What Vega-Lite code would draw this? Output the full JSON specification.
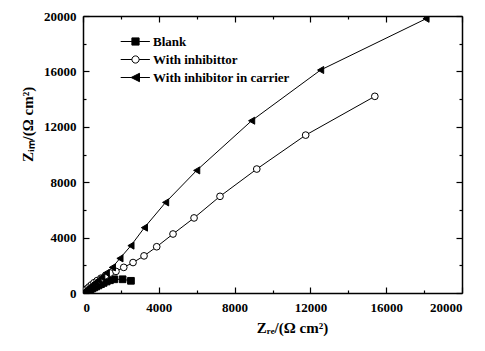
{
  "$schema": "https://vega.github.io/schema/vega-lite/v6.json",
  "width": 379,
  "height": 277,
  "autosize": {"type": "none"},
  "padding": {"left": 83, "top": 16, "right": 23, "bottom": 58},
  "background": "white",
  "config": {
    "view": {"stroke": null},
    "font": "Liberation Serif",
    "axis": {
      "grid": false,
      "domainColor": "black",
      "domainWidth": 1.5,
      "tickColor": "black",
      "tickWidth": 1.2,
      "labelFont": "Liberation Serif",
      "labelFontWeight": "bold",
      "labelFontSize": 13,
      "labelColor": "black",
      "titleFont": "Liberation Serif",
      "titleFontWeight": "bold",
      "titleFontSize": 15,
      "titleColor": "black"
    }
  },
  "data": {
    "values": [
      {"series": "Blank", "x": 20, "y": 15},
      {"series": "Blank", "x": 60, "y": 40},
      {"series": "Blank", "x": 110, "y": 75},
      {"series": "Blank", "x": 170, "y": 115},
      {"series": "Blank", "x": 240, "y": 160},
      {"series": "Blank", "x": 320, "y": 215},
      {"series": "Blank", "x": 400, "y": 270},
      {"series": "Blank", "x": 490, "y": 330},
      {"series": "Blank", "x": 590, "y": 400},
      {"series": "Blank", "x": 700, "y": 470},
      {"series": "Blank", "x": 820, "y": 550},
      {"series": "Blank", "x": 950, "y": 640},
      {"series": "Blank", "x": 1090, "y": 730},
      {"series": "Blank", "x": 1250, "y": 830},
      {"series": "Blank", "x": 1420, "y": 920},
      {"series": "Blank", "x": 1650, "y": 990},
      {"series": "Blank", "x": 2090, "y": 990},
      {"series": "Blank", "x": 2530, "y": 880},
      {"series": "With inhibittor", "x": 20, "y": 40},
      {"series": "With inhibittor", "x": 70, "y": 120},
      {"series": "With inhibittor", "x": 140, "y": 220},
      {"series": "With inhibittor", "x": 220, "y": 320},
      {"series": "With inhibittor", "x": 320, "y": 440},
      {"series": "With inhibittor", "x": 440, "y": 580},
      {"series": "With inhibittor", "x": 580, "y": 740},
      {"series": "With inhibittor", "x": 750, "y": 900},
      {"series": "With inhibittor", "x": 950, "y": 1070},
      {"series": "With inhibittor", "x": 1180, "y": 1250},
      {"series": "With inhibittor", "x": 1440, "y": 1440},
      {"series": "With inhibittor", "x": 1740, "y": 1560},
      {"series": "With inhibittor", "x": 2150, "y": 1850},
      {"series": "With inhibittor", "x": 2640, "y": 2200},
      {"series": "With inhibittor", "x": 3220, "y": 2680},
      {"series": "With inhibittor", "x": 3890, "y": 3340},
      {"series": "With inhibittor", "x": 4750, "y": 4260},
      {"series": "With inhibittor", "x": 5860, "y": 5420},
      {"series": "With inhibittor", "x": 7230, "y": 6980},
      {"series": "With inhibittor", "x": 9170, "y": 8950},
      {"series": "With inhibittor", "x": 11750, "y": 11400},
      {"series": "With inhibittor", "x": 15400, "y": 14200},
      {"series": "With inhibitor in carrier", "x": 20, "y": 20},
      {"series": "With inhibitor in carrier", "x": 60, "y": 70},
      {"series": "With inhibitor in carrier", "x": 120, "y": 140},
      {"series": "With inhibitor in carrier", "x": 190, "y": 220},
      {"series": "With inhibitor in carrier", "x": 280, "y": 320},
      {"series": "With inhibitor in carrier", "x": 380, "y": 440},
      {"series": "With inhibitor in carrier", "x": 500, "y": 580},
      {"series": "With inhibitor in carrier", "x": 640, "y": 740},
      {"series": "With inhibitor in carrier", "x": 800, "y": 920},
      {"series": "With inhibitor in carrier", "x": 990, "y": 1140},
      {"series": "With inhibitor in carrier", "x": 1230, "y": 1450},
      {"series": "With inhibitor in carrier", "x": 1550, "y": 1850},
      {"series": "With inhibitor in carrier", "x": 1950, "y": 2500},
      {"series": "With inhibitor in carrier", "x": 2530, "y": 3420},
      {"series": "With inhibitor in carrier", "x": 3240, "y": 4720},
      {"series": "With inhibitor in carrier", "x": 4360, "y": 6540},
      {"series": "With inhibitor in carrier", "x": 6000, "y": 8850},
      {"series": "With inhibitor in carrier", "x": 8900, "y": 12440},
      {"series": "With inhibitor in carrier", "x": 12540, "y": 16100},
      {"series": "With inhibitor in carrier", "x": 18100, "y": 19800}
    ]
  },
  "resolve": {"axis": {"x": "independent", "y": "independent"}},
  "layer": [
    {
      "mark": {"type": "line", "strokeWidth": 1, "clip": true},
      "encoding": {
        "x": {
          "field": "x", "type": "quantitative",
          "scale": {"domain": [0, 20000], "nice": false, "zero": false},
          "axis": {
            "orient": "bottom",
            "values": [0, 2000, 4000, 6000, 8000, 10000, 12000, 14000, 16000, 18000, 20000],
            "labelExpr": "datum.value % 4000 === 0 ? datum.value : ''",
            "tickSize": {"condition": {"test": "datum.value % 4000 === 0", "value": -6}, "value": -3},
            "labelPadding": 14,
            "title": "Zᵣₑ/(Ω cm²)",
            "titleX": 209,
            "titlePadding": 6
          }
        },
        "y": {
          "field": "y", "type": "quantitative",
          "scale": {"domain": [0, 20000], "nice": false, "zero": false},
          "axis": {
            "orient": "left",
            "values": [0, 2000, 4000, 6000, 8000, 10000, 12000, 14000, 16000, 18000, 20000],
            "labelExpr": "datum.value % 4000 === 0 ? datum.value : ''",
            "tickSize": {"condition": {"test": "datum.value % 4000 === 0", "value": -6}, "value": -3},
            "labelPadding": 13,
            "title": "Zᵢₘ/(Ω cm²)",
            "titleY": 108,
            "titlePadding": 8
          }
        },
        "stroke": {
          "field": "series", "type": "nominal",
          "scale": {
            "domain": ["Blank", "With inhibittor", "With inhibitor in carrier"],
            "range": ["black", "black", "black"]
          },
          "legend": {
            "title": null,
            "orient": "none",
            "legendX": 46,
            "legendY": 19,
            "symbolSize": 64,
            "symbolStrokeWidth": 1,
            "labelOffset": 11,
            "rowPadding": 4,
            "labelFont": "Liberation Serif",
            "labelFontWeight": "bold",
            "labelFontSize": 13,
            "labelColor": "black",
            "encode": {
              "symbols": {
                "update": {
                  "shape": {"signal": "datum.value === 'Blank' ? 'M-3.7,0L-0.9,0M0.9,0L3.6,0M-0.9,-0.9L0.9,-0.9L0.9,0.9L-0.9,0.9Z' : datum.value === 'With inhibittor' ? 'M-3.7,0L-0.9,0M0.9,0L3.6,0M0.9,0A0.9,0.9 0 1,1 -0.9,0A0.9,0.9 0 1,1 0.9,0Z' : 'M-3.7,0L-1.1,0M1,0L3.6,0M-1.1,0L1,-1.05L1,1.05Z'"},
                  "fill": {"signal": "datum.value === 'With inhibittor' ? 'white' : 'black'"},
                  "stroke": {"value": "black"},
                  "strokeWidth": {"value": 1}
                }
              }
            }
          }
        }
      }
    },
    {
      "transform": [{"filter": "datum.series === 'Blank'"}],
      "mark": {"type": "point", "shape": "square", "filled": true, "fill": "black", "stroke": "black", "strokeWidth": 1, "size": 45, "opacity": 1, "clip": true},
      "encoding": {
        "x": {
          "field": "x", "type": "quantitative",
          "axis": {
            "orient": "top",
            "values": [0, 2000, 4000, 6000, 8000, 10000, 12000, 14000, 16000, 18000, 20000],
            "labels": false,
            "title": null,
            "tickSize": {"condition": {"test": "datum.value % 4000 === 0", "value": -6}, "value": -3}
          }
        },
        "y": {
          "field": "y", "type": "quantitative",
          "axis": {
            "orient": "right",
            "values": [0, 2000, 4000, 6000, 8000, 10000, 12000, 14000, 16000, 18000, 20000],
            "labels": false,
            "title": null,
            "tickSize": {"condition": {"test": "datum.value % 4000 === 0", "value": -6}, "value": -3}
          }
        }
      }
    },
    {
      "transform": [{"filter": "datum.series === 'With inhibittor'"}],
      "mark": {"type": "point", "shape": "circle", "filled": false, "fill": "white", "stroke": "black", "strokeWidth": 1, "size": 45, "opacity": 1, "fillOpacity": 1, "clip": true},
      "encoding": {
        "x": {"field": "x", "type": "quantitative", "axis": null},
        "y": {"field": "y", "type": "quantitative", "axis": null}
      }
    },
    {
      "transform": [{"filter": "datum.series === 'With inhibitor in carrier'"}],
      "mark": {"type": "point", "shape": "triangle-left", "filled": true, "fill": "black", "stroke": "black", "strokeWidth": 1, "size": 50, "opacity": 1, "clip": true},
      "encoding": {
        "x": {"field": "x", "type": "quantitative", "axis": null},
        "y": {"field": "y", "type": "quantitative", "axis": null}
      }
    }
  ]
}
